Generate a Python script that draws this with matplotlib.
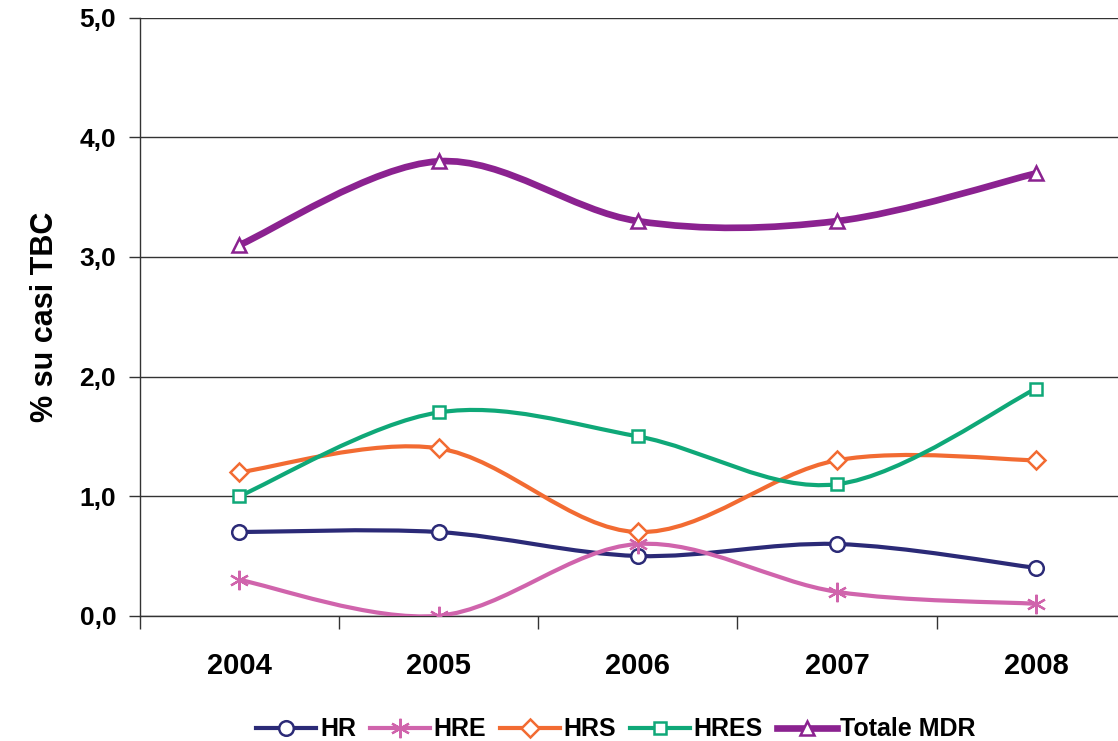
import numpy as np
import matplotlib.pyplot as plt
from matplotlib.path import Path
from matplotlib.patches import PathPatch
from matplotlib.lines import Line2D
from matplotlib.ticker import FuncFormatter

plt.rcParams['font.family'] = ['Liberation Sans', 'DejaVu Sans']
plt.rcParams['font.weight'] = 'bold'

years = ['2004', '2005', '2006', '2007', '2008']
hr = [0.7, 0.7, 0.5, 0.6, 0.4]
hre = [0.3, 0.0, 0.6, 0.2, 0.1]
hrs = [1.2, 1.4, 0.7, 1.3, 1.3]
hres = [1.0, 1.7, 1.5, 1.1, 1.9]
totale = [3.1, 3.8, 3.3, 3.3, 3.7]

series = [
    ('HR', hr, '#2B2A77', 'o', 3.0, 10.5),
    ('HRE', hre, '#D064AC', (6, 2, 0), 3.0, 14),
    ('HRS', hrs, '#F26B32', 'D', 3.0, 9.5),
    ('HRES', hres, '#0FA878', 's', 3.0, 8),
    ('Totale MDR', totale, '#8B2290', '^', 4.8, 10),
]


def smooth_path(x, y):
    # catmull-rom style bezier, like excel's smoothed line
    p = np.column_stack([x, y]).astype(float)
    verts = [p[0]]
    codes = [Path.MOVETO]
    n = len(p)
    for i in range(n - 1):
        p0 = p[i - 1] if i > 0 else p[i]
        p3 = p[i + 2] if i + 2 < n else p[i + 1]
        c1 = p[i] + (p[i + 1] - p0) / 6
        c2 = p[i + 1] - (p3 - p[i]) / 6
        verts += [c1, c2, p[i + 1]]
        codes += [Path.CURVE4] * 3
    return Path(verts, codes)


fig = plt.figure(figsize=(11.18, 7.41), dpi=100)
ax = fig.add_axes([0.125, 0.169, 0.875, 0.807])

x = np.arange(len(years))
handles = []
for name, vals, col, mk, lw, ms in series:
    ax.add_patch(PathPatch(smooth_path(x, vals), facecolor='none', edgecolor=col,
                           lw=lw, zorder=3, capstyle='round', joinstyle='round'))
    star = mk == (6, 2, 0)
    mew = 1.6 if star else 1.8
    ax.plot(x, vals, ls='none', marker=mk, ms=ms, mfc=col if star else 'white',
            mec=col, mew=mew, zorder=4)
    handles.append(Line2D([], [], color=col, lw=lw, marker=mk, ms=ms,
                          mfc=col if star else 'white', mec=col, mew=mew, label=name))

ax.set_xlim(-0.5, 4.41)
ax.set_ylim(0, 5)
ax.set_yticks([0, 1, 2, 3, 4, 5])
ax.yaxis.set_major_formatter(FuncFormatter(lambda v, p: f'{v:.1f}'.replace('.', ',')))
ax.set_xticks(x)
ax.set_xticklabels(years)
ax.set_xticks(np.arange(-0.5, 4.0, 1.0), minor=True)
ax.tick_params(axis='x', which='major', length=0, pad=26, labelsize=21)
ax.tick_params(axis='x', which='minor', length=9, width=1, color='#333333')
ax.tick_params(axis='y', length=8, width=1, color='#333333', labelsize=19, pad=9)
ax.grid(axis='y', color='#333333', lw=1)
ax.set_axisbelow(True)
for s in ['top', 'right']:
    ax.spines[s].set_visible(False)
for s in ['left', 'bottom']:
    ax.spines[s].set_color('#333333')
    ax.spines[s].set_linewidth(1)

ax.set_ylabel('% su casi TBC', fontsize=22, fontweight='bold', labelpad=14)

fig.legend(handles=handles, loc='lower center', bbox_to_anchor=(0.551, -0.024), ncol=5,
           frameon=False, fontsize=18, handlelength=2.4, columnspacing=0.55, handletextpad=0.15,
           borderaxespad=0.3)

fig.savefig('out.png', dpi=100)
